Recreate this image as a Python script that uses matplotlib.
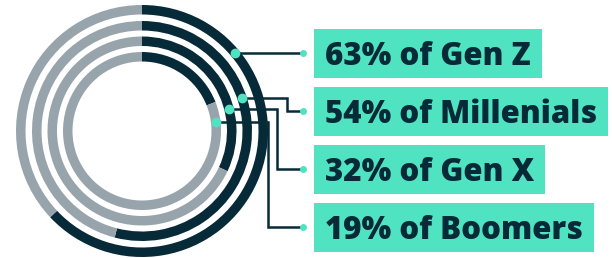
import matplotlib.pyplot as plt
from matplotlib.patches import Rectangle
import numpy as np

# data
groups = ["Gen Z", "Millenials", "Gen X", "Boomers"]
shares = [63, 54, 32, 19]

dark = "#062a38"
gray = "#98a4ac"
teal = "#50e3c2"

W, H = 612, 258
fig = plt.figure(figsize=(W / 100, H / 100), dpi=100)
ax = fig.add_axes([0, 0, 1, 1])

cx, cy = 142, H - 131
radii = [126, 110, 94.5, 79]
ring_w = 9.5

for p, r in zip(shares, radii):
    ax.pie([p, 100 - p], radius=r, center=(cx, cy), startangle=90,
           counterclock=False, colors=[dark, gray],
           wedgeprops=dict(width=ring_w, linewidth=0))

ax.set_xlim(0, W)
ax.set_ylim(0, H)
ax.set_axis_off()

# connector routes: angle on ring, bend x, label y (pixels from top)
ring_angle = [50, 72, 76, 83]
bend_x = [None, 287, 277, 268]
label_y = [54, 111, 169, 227]
dot_x = 303

renderer = fig.canvas.get_renderer()
for i, (g, p) in enumerate(zip(groups, shares)):
    rm = radii[i] - ring_w / 2
    a = np.deg2rad(ring_angle[i])
    x0 = cx + rm * np.sin(a)
    y0 = cy + rm * np.cos(a)
    ly = H - label_y[i]
    if bend_x[i] is None:
        xs, ys = [x0, dot_x], [y0, y0]
    else:
        xs = [x0, bend_x[i], bend_x[i], dot_x]
        ys = [y0, y0, ly, ly]
    ax.plot(xs, ys, color=dark, lw=1.8, solid_joinstyle="miter", zorder=3)
    ax.plot([x0], [y0], "o", color=teal, ms=7, mec="none", zorder=4)
    ax.plot([dot_x], [ys[-1]], "o", color=teal, ms=5, mec="none", zorder=4)
    t = ax.text(325, ys[-1], f"{p}% of {g}", fontsize=22.5, fontweight=800,
                family=["Open Sans", "DejaVu Sans"], color=dark,
                va="center_baseline", ha="left", zorder=5)
    bb = t.get_window_extent(renderer)
    ax.add_patch(Rectangle((314, ys[-1] - 24.5), bb.x1 - 314 + 11, 49,
                           fc=teal, ec="none", zorder=2))

fig.savefig("out.png", dpi=100)
